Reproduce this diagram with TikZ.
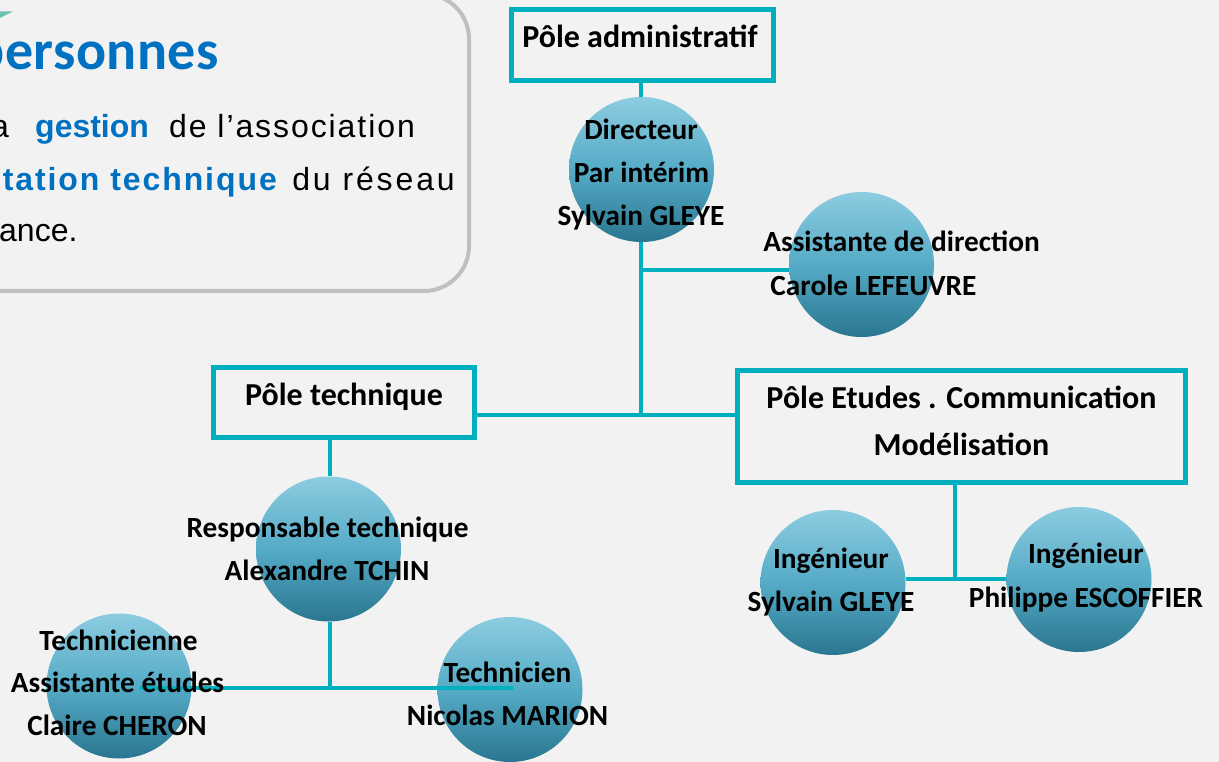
\documentclass[tikz,border=0pt]{standalone}
\usepackage{fontspec}
\setmainfont{Carlito}
\newfontfamily\bodyfont{Liberation Sans}
\usetikzlibrary{calc}
\definecolor{bgc}{HTML}{F2F2F2}
\definecolor{tealc}{HTML}{00B0BF}
\definecolor{grayb}{HTML}{BFBFBF}
\definecolor{bluet}{HTML}{0070C0}
\definecolor{greent}{HTML}{6FC2B0}
\definecolor{balltop}{HTML}{8CCCE0}
\definecolor{ballmid}{HTML}{55ABC6}
\definecolor{ballbot}{HTML}{2A7690}
\pgfdeclarelayer{back}
\pgfdeclarelayer{links}
\pgfsetlayers{back,links,main}
\begin{document}
\begin{tikzpicture}[x=1pt,y=-1pt,
  polebox/.style={draw=tealc, line width=5pt, fill=bgc, rectangle, inner sep=0pt},
  ball/.style={circle, minimum size=145pt, inner sep=0pt, top color=balltop, bottom color=ballbot, middle color=ballmid},
  lbl/.style={anchor=base, inner sep=0pt, font=\fontsize{29.3}{35}\selectfont\bfseries},
  boxlbl/.style={anchor=base, inner sep=0pt, font=\fontsize{32}{38}\selectfont\bfseries},
  link/.style={draw=tealc, line width=4.5pt},
  bodytxt/.style={inner sep=0pt, font=\bodyfont\fontsize{32}{38}\selectfont},
  bluetxt/.style={inner sep=0pt, text=bluet, font=\bodyfont\fontsize{32}{38}\selectfont\bfseries},
]
\useasboundingbox (0,0) rectangle (1219,762);
\clip (0,0) rectangle (1219,762);
\begin{pgfonlayer}{back}
\fill[bgc] (0,0) rectangle (1219,762);
\draw[grayb, line width=4pt, fill=bgc, rounded corners=45pt] (-60,-6) rectangle (469,291);
\fill[greent] (0,11.5) -- (13,11.5) -- (0,18) -- cycle;
\end{pgfonlayer}

% intro text
\node[anchor=base east, inner sep=0pt, text=bluet, font=\fontsize{56}{60}\selectfont\bfseries\addfontfeature{LetterSpace=0.8}] (head) at (219,70) {personnes};
\node[bodytxt, anchor=base east] (w1) at (9,138) {a};
\node[bluetxt, anchor=base west] (w2) at (35,138) {gestion};
\node[bodytxt, anchor=base west, font=\bodyfont\fontsize{32}{38}\selectfont\addfontfeature{LetterSpace=6}] (w3) at (169,138) {de l’association};
\node[bluetxt, anchor=base east, font=\bodyfont\fontsize{32}{38}\selectfont\bfseries\addfontfeature{LetterSpace=6}] (w4) at (277,191) {tation technique};
\node[bodytxt, anchor=base east, font=\bodyfont\fontsize{32}{38}\selectfont\addfontfeature{LetterSpace=9}] (w5) at (455,191) {du réseau};
\node[bodytxt, anchor=base west] (w6) at (-1,242) {ance.};

% boxes
\node[polebox, minimum width=262pt, minimum height=71pt] (adm) at (642.5,45) {};
\node[polebox, minimum width=261pt, minimum height=70pt] (tech) at (344,402.5) {};
\node[polebox, minimum width=448pt, minimum height=112pt] (etu) at (961.5,426.5) {};

% balls
\node[ball] (dir) at (641.5,169.5) {};
\node[ball] (car) at (861.5,264.5) {};
\node[ball] (resp) at (328.5,549) {};
\node[ball] (cla) at (119,686) {};
\node[ball] (nic) at (510,689.5) {};
\node[ball] (syl) at (833,582.5) {};
\node[ball] (phi) at (1079,579.5) {};

% connectors
\coordinate (j1) at (641,415);
\coordinate (b1) at (641,270);
\coordinate (j2) at (955,579);
\coordinate (j3) at (330,688);
\coordinate (e1) at (140,688);
\coordinate (e2) at (513,688);
\begin{pgfonlayer}{links}
\draw[link] (j1 |- adm.south) -- (j1 |- dir.north);
\draw[link] (j1 |- dir.south) -- (j1);
\draw[link] (b1) -- (b1 -| car.west);
\draw[link] (j1 -| tech.east) -- (j1 -| etu.west);
\draw[link] (j2 |- etu.south) -- (j2);
\draw[link] (j2 -| syl.east) -- (j2 -| phi.west);
\draw[link] (j3 |- tech.south) -- (j3 |- resp.north);
\draw[link] (j3 |- resp.south) -- (j3);
\end{pgfonlayer}
\draw[link] (e1) -- (e2);

% labels
\node[boxlbl] (ta) at (640,48) {Pôle administratif};
\node[lbl] (td1) at (641,140) {Directeur};
\node[lbl] (td2) at (641.5,183) {Par intérim};
\node[lbl] (td3) at (641,226) {Sylvain GLEYE};
\node[lbl] (tc1) at (901.5,252) {Assistante de direction};
\node[lbl] (tc2) at (873.5,295) {Carole LEFEUVRE};
\node[boxlbl] (tt) at (344,405.5) {Pôle technique};
\node[boxlbl] (te1) at (961.5,408) {Pôle Etudes . Communication};
\node[boxlbl] (te2) at (961.5,455) {Modélisation};
\node[lbl] (tr1) at (327.5,537) {Responsable technique};
\node[lbl] (tr2) at (327,580.5) {Alexandre TCHIN};
\node[lbl] (ts1) at (831,568) {Ingénieur};
\node[lbl] (ts2) at (831,611) {Sylvain GLEYE};
\node[lbl] (tp1) at (1086,563) {Ingénieur};
\node[lbl] (tp2) at (1086,607) {Philippe ESCOFFIER};
\node[lbl] (tl1) at (118.5,650) {Technicienne};
\node[lbl] (tl2) at (117.5,692) {Assistante études};
\node[lbl] (tl3) at (117,735) {Claire CHERON};
\node[lbl] (tn1) at (507.5,682) {Technicien};
\node[lbl] (tn2) at (507.5,725) {Nicolas MARION};
\end{tikzpicture}
\end{document}
